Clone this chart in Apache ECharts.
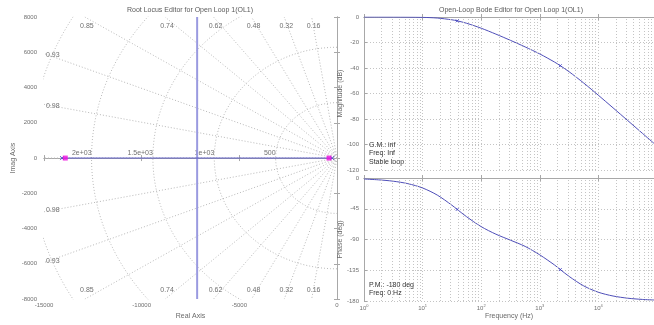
<!DOCTYPE html>
<html><head><meta charset="utf-8">
<script src="https://cdn.jsdelivr.net/npm/echarts@6/dist/echarts.min.js"></script>
<style>html,body{margin:0;padding:0;background:#fff}#c{width:654px;height:325px}</style>
</head><body><div id="c"></div>
<script>
// ---- data ----
const dampingRatios = [0.16, 0.32, 0.48, 0.62, 0.74, 0.85, 0.93, 0.98];
const natFreqHz = [500, 1000, 1500, 2000, 2500];
const natFreqLabels = ['500', '1e+03', '1.5e+03', '2e+03', ''];
const openLoopPoles = [-14074, -245];
const closedLoopPoles = [-13910, -410];
const asymptoteReal = -7160;
const freqHz   = [1, 1.78, 3.16, 5.62, 10, 17.8, 31.6, 39, 56.2, 100, 178, 316, 562, 1000, 1778, 2240, 3162, 5623, 10000, 17783, 31623, 56234, 88900];
const magDb    = [0, -0.01, -0.03, -0.09, -0.28, -0.82, -2.19, -3.01, -4.89, -8.80, -13.42, -18.32, -23.46, -28.98, -35.30, -38.20, -42.94, -51.81, -61.39, -71.24, -81.20, -91.2, -99.1];
const phaseDeg = [-1.5, -2.7, -4.7, -8.3, -14.6, -25.0, -39.8, -46.0, -56.6, -71.2, -82.2, -91.0, -100.1, -112.5, -127.2, -134.0, -144.0, -157.9, -167.2, -172.7, -175.9, -177.7, -178.5];
const bodeMarkFreq  = [39, 2240];
const bodeMarkMag   = [-3.0, -38.2];
const bodeMarkPhase = [-46.0, -134.0];
const realTicks = {min: -15000, max: 0, step: 5000};
const imagTicks = {min: -8000, max: 8000, step: 2000};
const decades = [0, 1, 2, 3, 4];
const minorMultipliers = [2, 3, 4, 5, 6, 7, 8, 9];

// ---- styling ----
const FONT = 'Arial, "Liberation Sans", Helvetica, sans-serif';
const axisGray = '#a8a8a8';
const plainNum = v => String(v);
const tickLabel = {fontSize: 6, color: '#707070', fontFamily: FONT, formatter: plainNum};
const nameStyle = {fontSize: 7, color: '#6a6a6a', fontFamily: FONT};
const sgridStyle = {color: '#b9b9b9', width: 1, type: [1, 2]};
const bodeGridStyle = {color: '#c4c4c4', width: 1, type: [1, 2]};
const blue = '#4e4eb8';
const xSym = 'path://M0,0L10,10M10,0L0,10';

const series = [];
// s-plane grid: damping lines
const RX = realTicks.min, TY = imagTicks.max;
series.push({type: 'line', xAxisIndex: 0, yAxisIndex: 0, data: [[0, 0], [RX, 0]], symbol: 'none', lineStyle: sgridStyle, silent: true, z: 1});
const labelData = [];
dampingRatios.forEach(z => {
  const th = Math.acos(z);
  const hitsTop = TY / Math.sin(th) < -RX / Math.cos(th);
  const r = Math.min(-RX / Math.cos(th), TY / Math.sin(th));
  const x = -r * Math.cos(th), y = r * Math.sin(th);
  [1, -1].forEach(sg => {
    series.push({type: 'line', xAxisIndex: 0, yAxisIndex: 0, data: [[0, 0], [x, sg * y]], symbol: 'none', lineStyle: sgridStyle, silent: true, z: 1});
    if (hitsTop) {
      labelData.push({value: [x, sg * y], label: {show: true, formatter: String(z), position: 'inside', align: 'center', verticalAlign: 'middle', offset: [2, sg * 9]}});
    } else {
      labelData.push({value: [x, sg * y], label: {show: true, formatter: String(z), position: 'inside', align: 'left', verticalAlign: 'middle', offset: [2, sg * 1.5]}});
    }
  });
});
// s-plane grid: natural frequency circles (Hz)
natFreqHz.forEach((f, i) => {
  const w = 2 * Math.PI * f;
  const pts = [];
  for (let a = 90; a <= 270; a += 1) pts.push([w * Math.cos(a * Math.PI / 180), w * Math.sin(a * Math.PI / 180)]);
  series.push({type: 'line', xAxisIndex: 0, yAxisIndex: 0, data: pts, symbol: 'none', lineStyle: sgridStyle, silent: true, z: 1, clip: true});
  if (natFreqLabels[i]) labelData.push({value: [-w, 0], label: {show: true, formatter: natFreqLabels[i], position: 'inside', align: 'right', verticalAlign: 'bottom', offset: [0, -1]}});
});
series.push({type: 'scatter', xAxisIndex: 0, yAxisIndex: 0, symbolSize: 1, itemStyle: {color: 'transparent'}, silent: true, z: 2,
  label: {fontSize: 7, color: '#4a4a4a', fontFamily: FONT}, data: labelData});
// root locus branches
series.push({type: 'line', xAxisIndex: 0, yAxisIndex: 0, data: [[asymptoteReal, imagTicks.min], [asymptoteReal, imagTicks.max]], symbol: 'none', lineStyle: {color: '#9a9ae0', width: 2}, silent: true, z: 3});
series.push({type: 'line', xAxisIndex: 0, yAxisIndex: 0, data: [[openLoopPoles[0], 0], [openLoopPoles[1], 0]], symbol: 'none', lineStyle: {color: '#5a5ac4', width: 1}, silent: true, z: 4});
series.push({type: 'scatter', xAxisIndex: 0, yAxisIndex: 0, data: openLoopPoles.map(p => [p, 0]), symbol: xSym, symbolSize: 4,
  itemStyle: {color: 'none', borderColor: '#4040c0', borderWidth: 1}, silent: true, z: 5});
series.push({type: 'scatter', xAxisIndex: 0, yAxisIndex: 0, data: closedLoopPoles.map(p => [p, 0]), symbol: 'rect', symbolSize: 5,
  itemStyle: {color: '#f010e0'}, silent: true, z: 6});
// Bode minor frequency grid (2..9 per decade)
const minorGrid = [];
decades.forEach(d => minorMultipliers.forEach(m => minorGrid.push({xAxis: m * Math.pow(10, d)})));
const gridMark = {silent: true, symbol: 'none', label: {show: false}, lineStyle: bodeGridStyle, animation: false, data: minorGrid};
// Bode curves
series.push({type: 'line', xAxisIndex: 2, yAxisIndex: 2, data: freqHz.map((f, i) => [f, magDb[i]]), symbol: 'none', smooth: 0.3, lineStyle: {color: blue, width: 1}, silent: true, z: 4, markLine: gridMark});
series.push({type: 'line', xAxisIndex: 4, yAxisIndex: 4, data: freqHz.map((f, i) => [f, phaseDeg[i]]), symbol: 'none', smooth: 0.3, lineStyle: {color: blue, width: 1}, silent: true, z: 4, markLine: gridMark});
series.push({type: 'scatter', xAxisIndex: 2, yAxisIndex: 2, data: bodeMarkFreq.map((f, i) => [f, bodeMarkMag[i]]), symbol: xSym, symbolSize: 3,
  itemStyle: {color: 'none', borderColor: '#4040c0', borderWidth: 1}, silent: true, z: 5});
series.push({type: 'scatter', xAxisIndex: 4, yAxisIndex: 4, data: bodeMarkFreq.map((f, i) => [f, bodeMarkPhase[i]]), symbol: xSym, symbolSize: 3,
  itemStyle: {color: 'none', borderColor: '#4040c0', borderWidth: 1}, silent: true, z: 5});

const boxLine = {show: true, lineStyle: {color: axisGray, width: 1}};
const inTick = {show: true, inside: true, length: 3, lineStyle: {color: axisGray}};
const bodeSplit = {show: true, lineStyle: bodeGridStyle};
const supFmt = v => '{b|10}{s|' + Math.round(Math.log10(v)) + '}';
const logX = (grid, extra) => Object.assign({type: 'log', logBase: 10, gridIndex: grid, min: 1, max: 88900,
  axisLine: boxLine, axisTick: inTick, splitLine: {show: false}, minorTick: {show: false}, minorSplitLine: {show: false}}, extra);

const option = {
  animation: false,
  backgroundColor: '#ffffff',
  grid: [
    {left: 44, top: 17, width: 293, height: 284},
    {left: 364, top: 17, width: 292, height: 153},
    {left: 364, top: 178, width: 292, height: 123}
  ],
  xAxis: [
    {type: 'value', gridIndex: 0, min: realTicks.min, max: realTicks.max, interval: realTicks.step,
      axisLine: boxLine, axisTick: inTick, splitLine: {show: false}, axisLabel: Object.assign({margin: 3}, tickLabel),
      name: 'Real Axis', nameLocation: 'middle', nameGap: 12, nameTextStyle: nameStyle},
    {type: 'value', gridIndex: 0, position: 'top', min: realTicks.min, max: realTicks.max, interval: realTicks.step,
      axisLine: boxLine, axisTick: inTick, splitLine: {show: false}, axisLabel: {show: false}},
    logX(1, {axisLabel: {show: false}, splitLine: bodeSplit}),
    logX(1, {position: 'top', axisLabel: {show: false}}),
    logX(2, {axisLabel: {formatter: supFmt, margin: 3, color: '#707070', fontFamily: FONT, showMaxLabel: false,
        rich: {b: {fontSize: 6, color: '#707070', fontFamily: FONT}, s: {fontSize: 4, color: '#707070', fontFamily: FONT, verticalAlign: 'top', padding: [0, 0, 4, 0]}}},
      splitLine: bodeSplit,
      name: 'Frequency (Hz)', nameLocation: 'middle', nameGap: 12, nameTextStyle: nameStyle}),
    logX(2, {position: 'top', axisLabel: {show: false}})
  ],
  yAxis: [
    {type: 'value', gridIndex: 0, min: imagTicks.min, max: imagTicks.max, interval: imagTicks.step,
      axisLine: boxLine, axisTick: inTick, splitLine: {show: false}, axisLabel: Object.assign({margin: 7}, tickLabel),
      name: 'Imag Axis', nameLocation: 'middle', nameGap: 27, nameTextStyle: nameStyle},
    {type: 'value', gridIndex: 0, position: 'right', min: imagTicks.min, max: imagTicks.max, interval: imagTicks.step,
      axisLine: boxLine, axisTick: inTick, splitLine: {show: false}, axisLabel: {show: false}},
    {type: 'value', gridIndex: 1, min: -120, max: 0, interval: 20,
      axisLine: boxLine, axisTick: inTick, splitLine: bodeSplit, axisLabel: Object.assign({margin: 5}, tickLabel),
      name: 'Magnitude (dB)', nameLocation: 'middle', nameGap: 19, nameTextStyle: nameStyle},
    {type: 'value', gridIndex: 1, position: 'right', min: -120, max: 0, interval: 20, axisLine: boxLine, axisTick: {show: false}, axisLabel: {show: false}, splitLine: {show: false}},
    {type: 'value', gridIndex: 2, min: -180, max: 0, interval: 45,
      axisLine: boxLine, axisTick: inTick, splitLine: bodeSplit, axisLabel: Object.assign({margin: 5}, tickLabel),
      name: 'Phase (deg)', nameLocation: 'middle', nameGap: 19, nameTextStyle: nameStyle},
    {type: 'value', gridIndex: 2, position: 'right', min: -180, max: 0, interval: 45, axisLine: boxLine, axisTick: {show: false}, axisLabel: {show: false}, splitLine: {show: false}}
  ],
  graphic: [
    {type: 'text', x: 190, y: 10, style: {text: 'Root Locus Editor for Open Loop 1(OL1)', font: '7px ' + FONT, fill: '#5a5a5a', textAlign: 'center', textVerticalAlign: 'middle'}},
    {type: 'text', x: 511, y: 10, style: {text: 'Open-Loop Bode Editor for Open Loop 1(OL1)', font: '7px ' + FONT, fill: '#5a5a5a', textAlign: 'center', textVerticalAlign: 'middle'}},
    {type: 'text', x: 369, y: 145, z: 10, style: {text: 'G.M.: inf', font: '7px ' + FONT, fill: '#333', textVerticalAlign: 'middle'}},
    {type: 'text', x: 369, y: 153.5, z: 10, style: {text: 'Freq: Inf', font: '7px ' + FONT, fill: '#333', textVerticalAlign: 'middle'}},
    {type: 'text', x: 369, y: 162, z: 10, style: {text: 'Stable loop', font: '7px ' + FONT, fill: '#333', textVerticalAlign: 'middle'}},
    {type: 'text', x: 369, y: 285, z: 10, style: {text: 'P.M.: -180 deg', font: '7px ' + FONT, fill: '#333', textVerticalAlign: 'middle'}},
    {type: 'text', x: 369, y: 293.5, z: 10, style: {text: 'Freq: 0 Hz', font: '7px ' + FONT, fill: '#333', textVerticalAlign: 'middle'}}
  ],
  series: series
};
const chart = echarts.init(document.getElementById('c'), null, {renderer: 'canvas'});
chart.setOption(option);
</script>
</body></html>
